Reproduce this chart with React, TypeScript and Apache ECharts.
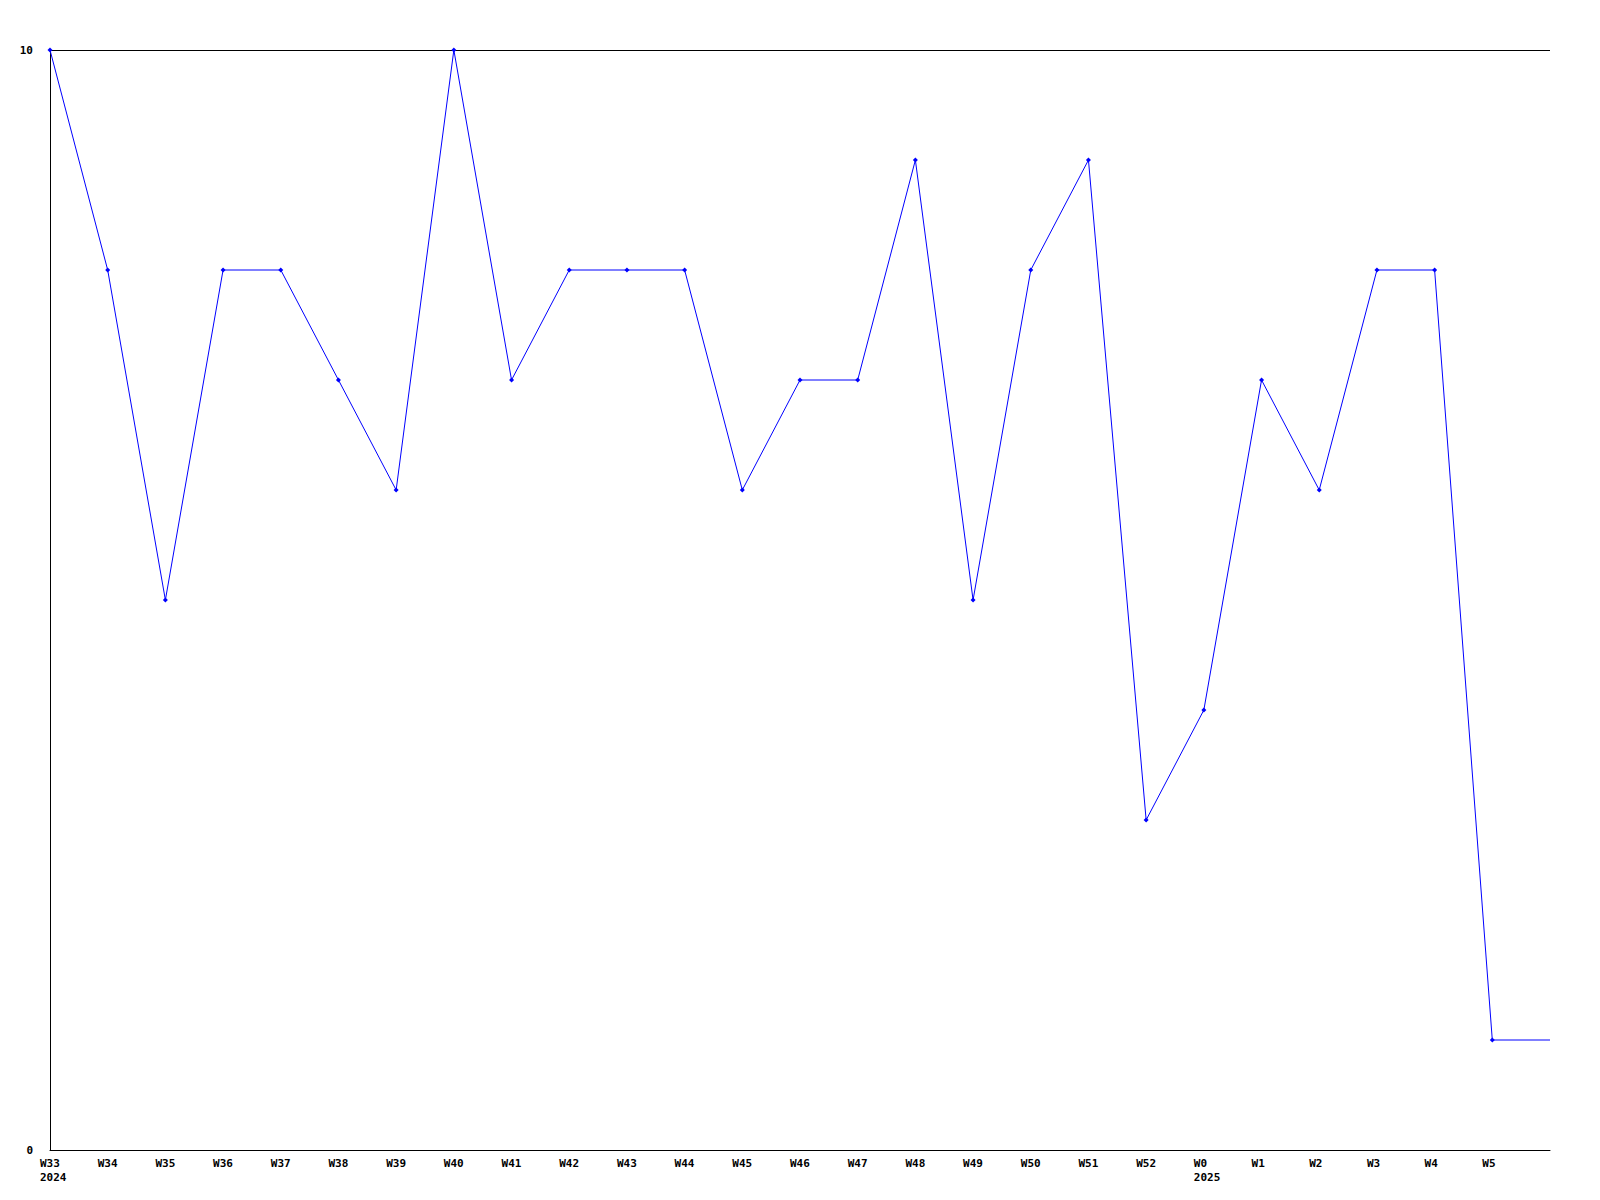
import React, { useEffect, useRef } from "react";
import * as echarts from "echarts";

const weeks = [
  "W33", "W34", "W35", "W36", "W37", "W38", "W39", "W40", "W41", "W42",
  "W43", "W44", "W45", "W46", "W47", "W48", "W49", "W50", "W51", "W52",
  "W0", "W1", "W2", "W3", "W4", "W5", "",
];
const values = [10, 8, 5, 8, 8, 7, 6, 10, 7, 8, 8, 8, 6, 7, 7, 9, 5, 8, 9, 3, 4, 7, 6, 8, 8, 1, 1];
const yearStarts: [string, string][] = [
  ["W33", "2024"],
  ["W0", "2025"],
];
const yTicks = { min: 0, max: 10, interval: 10 };

const FONT = "'DejaVu Sans Mono', 'Liberation Mono', monospace";

export default function App() {
  const ref = useRef<HTMLDivElement>(null);
  useEffect(() => {
    if (!ref.current) return;
    const chart = echarts.init(ref.current, undefined, { renderer: "svg" });
    const seriesData = values.map((v, i) =>
      weeks[i] === "" ? { value: v, symbol: "none" } : { value: v }
    );
    chart.setOption({
      animation: false,
      backgroundColor: "#ffffff",
      grid: { left: 50, right: 50, top: 50, bottom: 50, containLabel: false },
      xAxis: {
        type: "category",
        data: weeks,
        boundaryGap: false,
        axisLine: { show: true, lineStyle: { color: "#000000", width: 1 } },
        axisTick: { show: false },
        splitLine: { show: false },
        axisLabel: {
          interval: 0,
          align: "left",
          padding: [0, 0, 0, -10],
          margin: 6,
          lineHeight: 14,
          color: "#000000",
          fontFamily: FONT,
          fontWeight: "bold",
          fontSize: 11,
          formatter: (v: string) => {
            const y = yearStarts.find((p) => p[0] === v);
            return y ? v + "\n" + y[1] : v;
          },
        },
      },
      yAxis: {
        type: "value",
        min: yTicks.min,
        max: yTicks.max,
        interval: yTicks.interval,
        axisLine: { show: true, lineStyle: { color: "#000000", width: 1 } },
        axisTick: { show: false },
        splitLine: { show: true, lineStyle: { color: "#000000", width: 1 } },
        axisLabel: {
          margin: 17,
          color: "#000000",
          fontFamily: FONT,
          fontWeight: "bold",
          fontSize: 11,
        },
      },
      series: [
        {
          type: "line",
          data: seriesData,
          symbol: "diamond",
          symbolSize: 5,
          showAllSymbol: true,
          lineStyle: { color: "#0000ff", width: 1 },
          itemStyle: { color: "#0000ff" },
        },
      ],
    });
    return () => chart.dispose();
  }, []);
  return (
    <div
      ref={ref}
      style={{ position: "fixed", left: 0, top: 0, width: 1600, height: 1200, background: "#fff" }}
    />
  );
}
